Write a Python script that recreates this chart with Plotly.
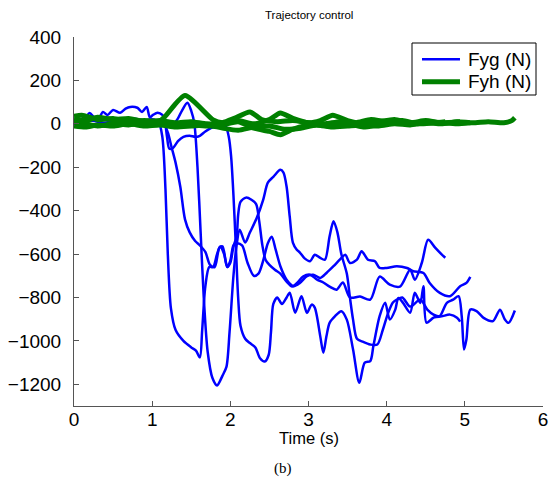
import plotly.graph_objects as go

# ---------------- data ----------------
# Fyg trials (blue)
t_g1 = [0, 0.08, 0.14, 0.2, 0.27, 0.35, 0.45, 0.6, 0.75, 0.9, 1.0, 1.08, 1.13, 1.17, 1.2, 1.24, 1.3, 1.4, 1.5, 1.56,
        1.61, 1.64, 1.68, 1.73, 1.78, 1.83, 1.87, 1.92, 1.96, 2.0, 2.04, 2.08, 2.15, 2.22, 2.3, 2.36, 2.42, 2.48, 2.53,
        2.58, 2.64, 2.72, 2.81, 2.89, 2.98, 3.06, 3.15, 3.23, 3.32, 3.4, 3.47, 3.53, 3.62, 3.68, 3.76, 3.85, 3.91, 4.0,
        4.13, 4.26, 4.34, 4.47, 4.55, 4.68, 4.81, 4.94, 5.02, 5.07]
y_g1 = [0, 40, 25, 50, 25, 30, 15, 20, 25, 15, 20, 10, -60, -300, -600, -850, -950, -1000, -1030, -1045,
        -1076, -950, -750, -660, -660, -600, -565, -600, -660, -630, -560, -550, -560, -640, -700, -690, -630, -550, -520,
        -580, -656, -718, -748, -733, -702, -695, -710, -687, -656, -626, -603, -641, -626, -587, -626, -633, -664, -664,
        -656, -664, -679, -687, -733, -779, -794, -748, -733, -705]

t_g2 = [0, 0.15, 0.3, 0.5, 0.7, 0.9, 1.05, 1.15, 1.2, 1.25, 1.3, 1.36, 1.42, 1.48, 1.55, 1.61, 1.68, 1.74, 1.8, 1.86,
        1.9, 1.96, 2.0, 2.04, 2.08, 2.1, 2.13, 2.2, 2.27, 2.33, 2.37, 2.41, 2.45, 2.5, 2.57, 2.64, 2.72, 2.79, 2.86, 2.93,
        3.02, 3.11, 3.19, 3.27, 3.36, 3.44, 3.53, 3.66, 3.79, 3.91, 4.04, 4.17, 4.3, 4.36, 4.45, 4.53, 4.62, 4.7, 4.75]
y_g2 = [20, 10, 25, 10, 20, 10, 15, 0, -40, -110, -180, -290, -440, -500, -540, -560, -590, -650, -660, -570,
        -565, -660, -640, -565, -520, -420, -360, -340, -350, -370, -450, -560, -626, -650, -672, -690, -727, -750, -731, -704,
        -695, -718, -731, -750, -764, -731, -800, -796, -810, -704, -741, -750, -672, -718, -640, -534, -570, -600, -617]

t_g3 = [0, 0.2, 0.4, 0.6, 0.8, 1.0, 1.1, 1.2, 1.3, 1.38, 1.45, 1.5, 1.54, 1.58, 1.62, 1.66, 1.71, 1.77, 1.83, 1.9,
        1.95, 1.99, 2.04, 2.08, 2.12, 2.19, 2.25, 2.34, 2.42, 2.48, 2.55, 2.64, 2.68, 2.72, 2.76, 2.8, 2.85, 2.89, 2.95,
        3.02, 3.08, 3.15, 3.21, 3.27, 3.32, 3.37, 3.42, 3.49, 3.53, 3.57, 3.62, 3.7, 3.79, 3.88, 3.95, 4.02, 4.08, 4.13,
        4.2, 4.3, 4.43, 4.52, 4.6, 4.68, 4.81, 4.9, 4.94]
y_g3 = [0, 15, 5, 20, 10, 20, 10, 5, 10, 60, 97, 60, 0, -200, -500, -800, -1050, -1170, -1205, -1160,
        -1120, -960, -700, -560, -488, -547, -501, -432, -350, -271, -244, -212, -225, -290, -428, -547, -580, -593, -620,
        -633, -603, -618, -626, -518, -449, -500, -600, -690, -800, -902, -990, -1005, -1017, -1017, -950, -870, -823, -810,
        -800, -842, -810, -856, -879, -888, -879, -893, -911]

t_g4 = [0, 0.1, 0.2, 0.27, 0.33, 0.37, 0.43, 0.5, 0.59, 0.66, 0.72, 0.81, 0.87, 0.93, 0.97, 1.01, 1.07, 1.13, 1.16,
        1.19, 1.22, 1.27, 1.33, 1.4, 1.48, 1.55, 1.61, 1.68, 1.75, 1.82, 1.88, 1.94, 1.98, 2.01, 2.04, 2.07, 2.1, 2.13,
        2.19, 2.25, 2.32, 2.38, 2.44, 2.49, 2.52, 2.55, 2.6, 2.66, 2.72, 2.76, 2.83, 2.91, 2.98, 3.04, 3.08, 3.15, 3.19,
        3.23, 3.27, 3.34, 3.42, 3.49, 3.57, 3.65, 3.72, 3.79, 3.83, 3.91, 3.98, 4.04, 4.11, 4.15, 4.21, 4.3, 4.36, 4.43,
        4.47, 4.51, 4.6, 4.68, 4.77, 4.85, 4.92, 4.96, 4.99, 5.02, 5.07, 5.15, 5.24, 5.36, 5.45, 5.51, 5.56, 5.64]
y_g4 = [0, 10, 20, 15, 32, 55, 41, 64, 51, 70, 78, 74, 55, 78, 30, 41, 51, 41, 18,
        -60, -115, -110, -80, -60, -55, -60, -55, -35, -20, -10, 0, -10, -60, -150, -330, -560, -800, -930,
        -990, -1010, -1030, -1080, -1095, -1065, -960, -830, -800, -830, -800, -778, -870, -794, -871, -833, -847, -978, -1055,
        -978, -917, -886, -863, -902, -1040, -1193, -1100, -1093, -1024, -886, -824, -902, -856, -802, -825, -870, -778, -825,
        -748, -916, -893, -886, -825, -810, -794, -886, -1040, -994, -856, -863, -894, -909, -856, -900, -917, -860]

# Fyh trials (green)
t_h1 = [0, 0.1, 0.3, 0.5, 0.7, 0.9, 1.1, 1.3, 1.5, 1.7, 1.9, 2.1, 2.3, 2.5, 2.64, 2.8, 2.95, 3.1, 3.3, 3.5, 3.7,
        3.9, 4.1, 4.3, 4.5, 4.7, 4.9, 5.07]
y_h1 = [35, 40, 20, 25, 10, 15, 5, 0, -5, -10, -5, 10, -20, -35, -50, -25, -10, -5, -10, 0, -15, -5, 5, 0, 10, 5,
        0, 5]
t_h2 = [0, 0.15, 0.3, 0.5, 0.7, 0.9, 1.1, 1.3, 1.5, 1.7, 1.9, 2.05, 2.25, 2.4, 2.6, 2.8, 3.0, 3.2, 3.4, 3.6, 3.8,
        4.0, 4.2, 4.4, 4.6, 4.75]
y_h2 = [20, 15, 30, 20, 25, 10, 15, 5, 10, 0, 5, 25, 55, 20, 10, 15, 5, 0, 10, 5, 20, 10, 15, 0, 5, 10]
t_h3 = [0, 0.15, 0.3, 0.5, 0.7, 0.9, 1.05, 1.16, 1.42, 1.78, 1.9, 2.1, 2.3, 2.5, 2.64, 2.8, 3.0, 3.15, 3.31, 3.5,
        3.7, 3.9, 4.1, 4.3, 4.5, 4.7, 4.94]
y_h3 = [10, 0, -10, 0, -5, 5, 0, 32, 130, 18, 5, 15, 0, 20, 50, 25, 5, 15, 40, 15, 0, 10, 20, 5, 15, 5, 10]
t_h4 = [0, 0.15, 0.3, 0.5, 0.7, 0.9, 1.1, 1.3, 1.5, 1.7, 1.9, 2.1, 2.3, 2.5, 2.7, 2.9, 3.1, 3.3, 3.5, 3.7, 3.9,
        4.1, 4.3, 4.5, 4.7, 4.9, 5.1, 5.3, 5.5, 5.6, 5.64]
y_h4 = [-10, -15, -5, -10, 0, -10, -5, -15, -10, -5, -20, -30, -15, -10, -25, -20, -5, -15, -10, -5, -10, 0, -5,
        5, 0, 10, 5, 10, 5, 15, 28]

fyg_t = [t_g1, t_g2, t_g3, t_g4]
fyg_y = [y_g1, y_g2, y_g3, y_g4]
fyh_t = [t_h1, t_h2, t_h3, t_h4]
fyh_y = [y_h1, y_h2, y_h3, y_h4]

series_names = ["Fyg (N)", "Fyh (N)"]
x_ticks = [0, 1, 2, 3, 4, 5, 6]
y_ticks = [-1200, -1000, -800, -600, -400, -200, 0, 200, 400]

BLUE = "#0000FF"
GREEN = "#008000"
BLUE_W = 2.5
GREEN_W = 5

fig = go.Figure()
for i, (tt, yy) in enumerate(zip(fyg_t, fyg_y)):
    fig.add_trace(go.Scatter(x=tt, y=yy, mode="lines", name=series_names[0], legendgroup="g",
                             showlegend=False, hoverinfo="skip",
                             line=dict(color=BLUE, width=BLUE_W, shape="spline", smoothing=0.8)))
for i, (tt, yy) in enumerate(zip(fyh_t, fyh_y)):
    fig.add_trace(go.Scatter(x=tt, y=yy, mode="lines", name=series_names[1], legendgroup="h",
                             showlegend=False, hoverinfo="skip",
                             line=dict(color=GREEN, width=GREEN_W, shape="spline", smoothing=0.6)))

FONT = "Liberation Sans, Arial, Helvetica, sans-serif"

# legend box drawn in paper coordinates (MATLAB-style boxed legend)
LX0, LX1, LY0, LY1 = 0.7207, 0.9851, 0.8428, 0.9837
SX0, SX1, TX = 0.742, 0.823, 0.8358
ROW_Y = [0.9396, 0.8789]
shapes = [dict(type="rect", xref="paper", yref="paper", x0=LX0, x1=LX1, y0=LY0, y1=LY1,
               line=dict(color="black", width=1), fillcolor="white", layer="above")]
annotations = []
for name, color, w, ry in zip(series_names, [BLUE, GREEN], [BLUE_W, GREEN_W], ROW_Y):
    shapes.append(dict(type="line", xref="paper", yref="paper", x0=SX0, x1=SX1, y0=ry, y1=ry,
                       line=dict(color=color, width=w), layer="above"))
    annotations.append(dict(text=name, xref="paper", yref="paper", x=TX, y=ry, xanchor="left",
                            yanchor="middle", showarrow=False,
                            font=dict(family=FONT, size=19, color="black")))

annotations += [
    dict(text="Trajectory control", xref="paper", yref="paper", x=0.5, y=1, xanchor="center",
         yanchor="bottom", yshift=14, showarrow=False, font=dict(family=FONT, size=11.5)),
    dict(text="Time (s)", xref="paper", yref="paper", x=0.5, y=0, xanchor="center",
         yanchor="top", yshift=-21, showarrow=False, font=dict(family=FONT, size=16.5)),
    dict(text="(b)", xref="paper", yref="paper", x=0.446, y=0, xanchor="center",
         yanchor="top", yshift=-52, showarrow=False,
         font=dict(family="Liberation Serif, Times New Roman, serif", size=15)),
]

fig.update_layout(
    width=552, height=495,
    margin=dict(l=74, r=9, t=37, b=89, autoexpand=False),
    paper_bgcolor="white", plot_bgcolor="white",
    font=dict(family=FONT, size=19, color="black"),
    showlegend=False,
    hovermode=False,
    xaxis=dict(range=[0, 6], tickvals=x_ticks, ticks="inside", ticklen=5, tickcolor="#555",
               showline=True, linecolor="#555", linewidth=1, showgrid=False, zeroline=False,
               automargin=False, tickfont=dict(family=FONT, size=19), ticklabelstandoff=-4),
    yaxis=dict(range=[-1300, 400], tickvals=y_ticks, ticks="inside", ticklen=5, tickcolor="#555",
               showline=True, linecolor="#555", linewidth=1, showgrid=False, zeroline=False,
               automargin=False, tickfont=dict(family=FONT, size=19), ticklabelstandoff=8),
    shapes=shapes,
    annotations=annotations,
)

fig.write_html("out.html", config={"displayModeBar": False},
               post_script="document.body.style.margin='0';document.body.style.padding='0';")
